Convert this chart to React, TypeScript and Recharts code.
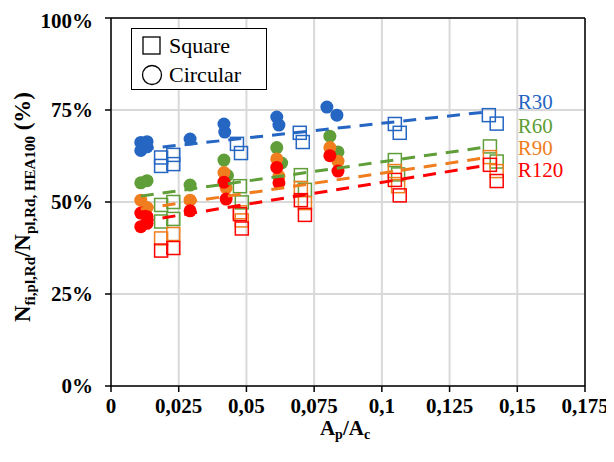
import { ScatterChart, Scatter, XAxis, YAxis, CartesianGrid, ReferenceLine, ReferenceDot } from 'recharts';

const FONT = "'Times New Roman', 'Liberation Serif', Times, serif";

const xTicks = [0, 0.025, 0.05, 0.075, 0.1, 0.125, 0.15, 0.175];
const yTicks = [0, 25, 50, 75, 100];

const ratings = ['R30', 'R60', 'R90', 'R120'];
const colors = ['#2566c2', '#5f9e38', '#f07d1e', '#ff0000'];

// circular sections [Ap/Ac, ratio %]
const circR30 = [[0.011, 66.2], [0.0133, 66.4], [0.011, 64.0], [0.0133, 65.0], [0.0292, 67.1], [0.0417, 71.2], [0.042, 69.0], [0.0612, 73.1], [0.062, 70.9], [0.0797, 75.8], [0.0834, 73.6]];
const circR60 = [[0.011, 55.2], [0.0133, 55.8], [0.0292, 54.6], [0.0417, 61.4], [0.043, 57.2], [0.0612, 64.8], [0.063, 60.6], [0.0808, 67.9], [0.0838, 63.6]];
const circR90 = [[0.011, 50.5], [0.0133, 48.5], [0.0292, 50.5], [0.0417, 58.0], [0.0425, 53.8], [0.0612, 61.7], [0.062, 57.0], [0.0808, 64.8], [0.0838, 61.1]];
const circR120 = [[0.011, 47.0], [0.0133, 46.0], [0.011, 43.3], [0.0133, 44.2], [0.0292, 47.6], [0.0417, 55.4], [0.0425, 50.8], [0.0612, 59.4], [0.062, 55.2], [0.0808, 62.6], [0.0838, 58.4]];

// square sections
const sqR30 = [[0.0185, 62.1], [0.0185, 59.8], [0.023, 62.8], [0.023, 60.3], [0.0465, 65.8], [0.048, 63.3], [0.0697, 68.8], [0.0708, 66.3], [0.1048, 71.2], [0.1066, 68.8], [0.1395, 73.6], [0.1424, 71.3]];
const sqR60 = [[0.0185, 49.2], [0.0185, 44.7], [0.023, 50.0], [0.023, 45.4], [0.0476, 54.3], [0.0483, 49.9], [0.0701, 57.3], [0.0716, 53.3], [0.1048, 61.4], [0.106, 57.5], [0.1399, 65.1], [0.1424, 61.0]];
const sqR90 = [[0.0185, 40.1], [0.023, 41.3], [0.0476, 47.2], [0.0483, 45.0], [0.0701, 53.8], [0.0716, 49.7], [0.1048, 58.4], [0.106, 54.3], [0.1399, 62.2], [0.1424, 58.4]];
const sqR120 = [[0.0185, 36.8], [0.023, 37.5], [0.0476, 46.7], [0.0483, 42.8], [0.0701, 50.5], [0.0716, 46.5], [0.1048, 56.0], [0.1066, 51.8], [0.1399, 60.1], [0.1424, 55.7]];

// linear trend lines, start and end
const trendR30 = [[0.011, 64.3], [0.139, 74.5]];
const trendR60 = [[0.011, 51.6], [0.139, 65.0]];
const trendR90 = [[0.011, 48.1], [0.139, 62.1]];
const trendR120 = [[0.011, 44.7], [0.139, 60.0]];

// where the rating names sit
const labelX = 0.1502;
const labelY = [77.2, 70.9, 64.9, 58.7];

const circles = [circR30, circR60, circR90, circR120];
const squares = [sqR30, sqR60, sqR90, sqR120];
const trends = [trendR30, trendR60, trendR90, trendR120];

const pts = (a: number[][]) => a.map(([x, y]) => ({ x, y }));

const fmtX = (v: number) => String(v).replace('.', ',');

const YLabel = () => (
  <text transform="translate(22,199) rotate(-90)" textAnchor="middle" fontFamily={FONT} fontWeight="bold" fontSize={23} fill="#000">
    <tspan>N</tspan>
    <tspan fontSize={15} dy={5}>fi,pl,Rd</tspan>
    <tspan dy={-5}>/N</tspan>
    <tspan fontSize={15} dy={5}>pl,Rd,  HEA100</tspan>
    <tspan dy={-5}> (%)</tspan>
  </text>
);

const XLabel = () => (
  <text x={337} y={427} textAnchor="middle" fontFamily={FONT} fontWeight="bold" fontSize={21} fill="#000">
    <tspan>A</tspan>
    <tspan fontSize={14} dy={4}>p</tspan>
    <tspan dy={-4}>/A</tspan>
    <tspan fontSize={14} dy={4}>c</tspan>
  </text>
);

export default function App() {
  const tick = { fill: '#000', fontFamily: FONT, fontWeight: 'bold', fontSize: 21 };
  return (
    <div style={{ position: 'relative', width: 606, height: 454, fontFamily: FONT }}>
      <ScatterChart width={606} height={454} margin={{ top: 10, right: 29, bottom: 0, left: 0 }} style={{ fontFamily: FONT }}>
        <CartesianGrid stroke="#d9d9d9" strokeWidth={2} />
        <XAxis
          type="number"
          dataKey="x"
          domain={[0, 0.175]}
          ticks={xTicks}
          tickFormatter={fmtX}
          height={76}
          tick={tick}
          tickMargin={6}
          axisLine={{ stroke: '#000', strokeWidth: 1.5 }}
          tickLine={{ stroke: '#000', strokeWidth: 1.5 }}
          label={{ content: () => <XLabel /> }}
        />
        <YAxis
          type="number"
          dataKey="y"
          domain={[0, 100]}
          ticks={yTicks}
          tickFormatter={(v: number) => `${v}%`}
          width={103}
          tick={tick}
          tickMargin={12}
          axisLine={{ stroke: '#000', strokeWidth: 1.5 }}
          tickLine={{ stroke: '#000', strokeWidth: 1.5 }}
          label={{ content: () => <YLabel /> }}
        />
        <ReferenceLine y={100} stroke="#000" strokeWidth={1.5} />
        <ReferenceLine x={0.175} stroke="#000" strokeWidth={1.5} />
        {ratings.map((r, i) => [
          <Scatter
            key={r + 'sq'}
            data={pts(squares[i])}
            isAnimationActive={false}
            shape={(p: any) => (
              <rect x={p.cx - 6.5} y={p.cy - 6.5} width={13} height={13} fill="none" stroke={colors[i]} strokeWidth={1.5} />
            )}
          />,
          <Scatter
            key={r + 'ci'}
            data={pts(circles[i])}
            isAnimationActive={false}
            shape={(p: any) => <circle cx={p.cx} cy={p.cy} r={6.5} fill={colors[i]} />}
          />,
        ])}
        {ratings.map((r, i) => (
          <Scatter
            key={r + 'tr'}
            data={pts(trends[i])}
            isAnimationActive={false}
            line={{ stroke: colors[i], strokeWidth: 3, strokeDasharray: '13 9' }}
            shape={() => <g />}
          />
        ))}
        {ratings.map((r, i) => (
          <ReferenceDot
            key={r + 'lb'}
            x={labelX}
            y={labelY[i]}
            r={0}
            stroke="none"
            label={{ value: r, position: 'right', offset: 0, fill: colors[i], fontFamily: FONT, fontSize: 21 }}
          />
        ))}
      </ScatterChart>
      <div
        style={{
          position: 'absolute',
          left: 123,
          top: 20,
          width: 136,
          height: 62,
          border: '1.5px solid #000',
          background: '#fff',
          fontFamily: FONT,
          fontSize: 22,
          lineHeight: '29px',
          padding: '2px 0 0 9px',
          boxSizing: 'border-box',
        }}
      >
        <div style={{ display: 'flex', alignItems: 'center' }}>
          <svg width={22} height={22} style={{ marginRight: 6 }}>
            <rect x={2} y={2} width={17} height={17} fill="none" stroke="#000" strokeWidth={1.3} />
          </svg>
          Square
        </div>
        <div style={{ display: 'flex', alignItems: 'center' }}>
          <svg width={22} height={22} style={{ marginRight: 6 }}>
            <circle cx={11} cy={11} r={9.5} fill="none" stroke="#000" strokeWidth={1.3} />
          </svg>
          Circular
        </div>
      </div>
    </div>
  );
}
